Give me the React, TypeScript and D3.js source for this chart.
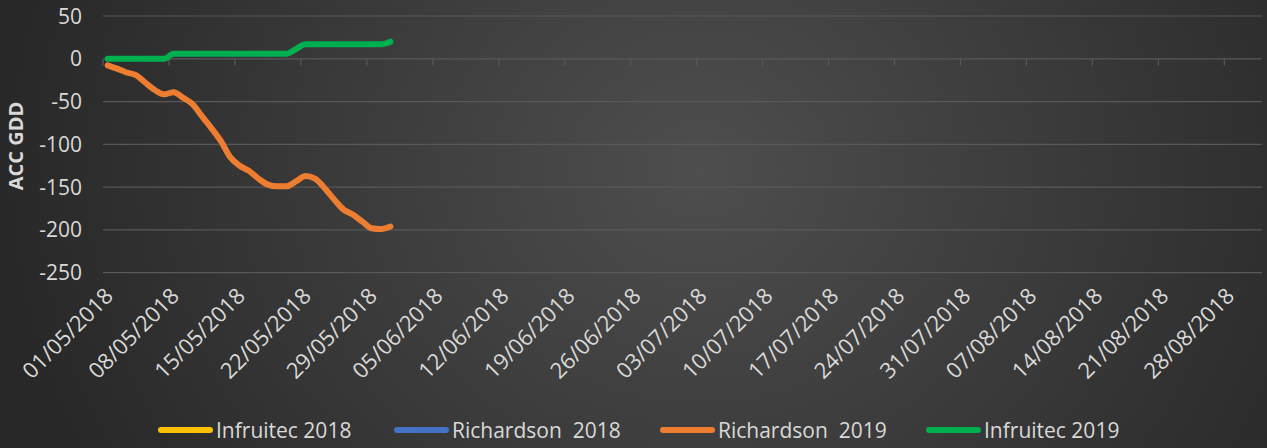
import React, { useEffect, useRef } from 'react';
import * as d3 from 'd3';

const W = 1267;
const H = 448;

// daily categories (01/05/2018 .. 31/05/2018)
const days = [
  '2018-05-01', '2018-05-02', '2018-05-03', '2018-05-04', '2018-05-05', '2018-05-06', '2018-05-07',
  '2018-05-08', '2018-05-09', '2018-05-10', '2018-05-11', '2018-05-12', '2018-05-13', '2018-05-14',
  '2018-05-15', '2018-05-16', '2018-05-17', '2018-05-18', '2018-05-19', '2018-05-20', '2018-05-21',
  '2018-05-22', '2018-05-23', '2018-05-24', '2018-05-25', '2018-05-26', '2018-05-27', '2018-05-28',
  '2018-05-29', '2018-05-30', '2018-05-31',
];

const infruitec2018: number[] = [];
const richardson2018: number[] = [];
const richardson2019 = [
  -7.6, -11.5, -16, -19, -28, -36.5, -41.5, -39, -45.5, -53, -67, -81, -96, -115, -125, -131,
  -140, -147, -149, -149, -143, -137, -140, -151, -164, -176, -182, -190, -198, -199, -196,
];
const infruitec2019 = [
  0, 0, 0, 0, 0, 0, 0, 6, 6, 6, 6, 6, 6, 6, 6, 6, 6, 6, 6, 6, 11.5, 17, 17, 17, 17, 17, 17, 17,
  17, 17, 20,
];

const xTicks = [
  '2018-05-01', '2018-05-08', '2018-05-15', '2018-05-22', '2018-05-29', '2018-06-05',
  '2018-06-12', '2018-06-19', '2018-06-26', '2018-07-03', '2018-07-10', '2018-07-17',
  '2018-07-24', '2018-07-31', '2018-08-07', '2018-08-14', '2018-08-21', '2018-08-28',
];
const yTicks = [50, 0, -50, -100, -150, -200, -250];

const series = [
  { name: 'Infruitec 2018', color: '#ffc000', values: infruitec2018 },
  { name: 'Richardson  2018', color: '#4472c4', values: richardson2018 },
  { name: 'Richardson  2019', color: '#ed7d31', values: richardson2019 },
  { name: 'Infruitec 2019', color: '#00b050', values: infruitec2019 },
];
const legendX = [158, 394, 660, 926];

const FONT = '"Open Sans", sans-serif';
const TEXT = '#d9d9d9';
const GRID = '#595959';

const App: React.FC = () => {
  const svgRef = useRef<SVGSVGElement>(null);

  useEffect(() => {
    if (!svgRef.current) return;
    const svg = d3.select(svgRef.current);
    svg.selectAll('*').remove();

    const plot = { left: 103, right: 1262, top: 16, bottom: 272.7 };
    const parse = d3.utcParse('%Y-%m-%d');
    const fmt = d3.utcFormat('%d/%m/%Y');

    const x = d3.scaleUtc()
      .domain([parse('2018-05-01')!, parse('2018-09-01')!])
      .range([plot.left, plot.right]);
    const y = d3.scaleLinear().domain([-250, 50]).range([plot.bottom, plot.top]);

    // background
    const defs = svg.append('defs');
    const grad = defs.append('radialGradient')
      .attr('id', 'bg')
      .attr('gradientUnits', 'userSpaceOnUse')
      .attr('cx', 700).attr('cy', 170).attr('r', 700)
      .attr('gradientTransform', 'translate(700,170) scale(1,0.9) translate(-700,-170)');
    grad.append('stop').attr('offset', '0%').attr('stop-color', '#4e4e4e');
    grad.append('stop').attr('offset', '100%').attr('stop-color', '#282828');
    svg.append('rect').attr('width', W).attr('height', H).attr('fill', 'url(#bg)');

    const g = svg.append('g');

    // grid lines
    g.selectAll('.grid')
      .data(yTicks.filter(v => v !== 0))
      .enter()
      .append('line')
      .attr('x1', plot.left)
      .attr('x2', plot.right)
      .attr('y1', d => y(d))
      .attr('y2', d => y(d))
      .attr('stroke', GRID)
      .attr('stroke-width', 1.2);

    // y labels
    g.selectAll('.ylab')
      .data(yTicks)
      .enter()
      .append('text')
      .attr('x', 82)
      .attr('y', d => y(d))
      .attr('dy', '0.36em')
      .attr('text-anchor', 'end')
      .attr('fill', TEXT)
      .style('font-family', FONT)
      .style('font-size', '21px')
      .text(d => d);

    // y title
    g.append('text')
      .attr('transform', `translate(23,146) rotate(-90)`)
      .attr('text-anchor', 'middle')
      .attr('fill', TEXT)
      .style('font-family', FONT)
      .style('font-size', '20px')
      .style('font-weight', 'bold')
      .text('ACC GDD');

    // x axis line at zero + ticks
    const y0 = y(0);
    g.append('line')
      .attr('x1', plot.left).attr('x2', plot.right)
      .attr('y1', y0).attr('y2', y0)
      .attr('stroke', GRID).attr('stroke-width', 1.2);
    g.selectAll('.xtick')
      .data(xTicks)
      .enter()
      .append('line')
      .attr('x1', d => x(parse(d)!))
      .attr('x2', d => x(parse(d)!))
      .attr('y1', y0)
      .attr('y2', y0 + 7)
      .attr('stroke', GRID)
      .attr('stroke-width', 1.2);

    // x labels
    g.selectAll('.xlab')
      .data(xTicks)
      .enter()
      .append('text')
      .attr('transform', d => `translate(${x(parse(d)!) + 6},292) rotate(-45)`)
      .attr('dy', '0.35em')
      .attr('text-anchor', 'end')
      .attr('fill', TEXT)
      .style('font-family', FONT)
      .style('font-size', '22px')
      .text(d => fmt(parse(d)!));

    // lines
    const line = d3.line<number>()
      .x((_, i) => x(d3.utcHour.offset(parse(days[i])!, 12)))
      .y(d => y(d))
      .curve(d3.curveMonotoneX);

    series.forEach(s => {
      if (s.values.length === 0) return;
      g.append('path')
        .datum(s.values)
        .attr('d', line)
        .attr('fill', 'none')
        .attr('stroke', s.color)
        .attr('stroke-width', 6)
        .attr('stroke-linecap', 'round')
        .attr('stroke-linejoin', 'round');
    });

    // legend
    const ly = 430;
    const leg = g.selectAll('.leg')
      .data(series)
      .enter()
      .append('g')
      .attr('transform', (_, i) => `translate(${legendX[i]},${ly})`);
    leg.append('line')
      .attr('x1', 3).attr('x2', 52)
      .attr('y1', 0).attr('y2', 0)
      .attr('stroke', d => d.color)
      .attr('stroke-width', 6)
      .attr('stroke-linecap', 'round');
    leg.append('text')
      .attr('x', 58)
      .attr('dy', '0.36em')
      .attr('fill', TEXT)
      .attr('xml:space', 'preserve')
      .style('white-space', 'pre')
      .style('font-family', FONT)
      .style('font-size', '21px')
      .text(d => d.name);
  }, []);

  return (
    <svg
      ref={svgRef}
      width={W}
      height={H}
      style={{ position: 'absolute', left: 0, top: 0, display: 'block' }}
    />
  );
};

export default App;
